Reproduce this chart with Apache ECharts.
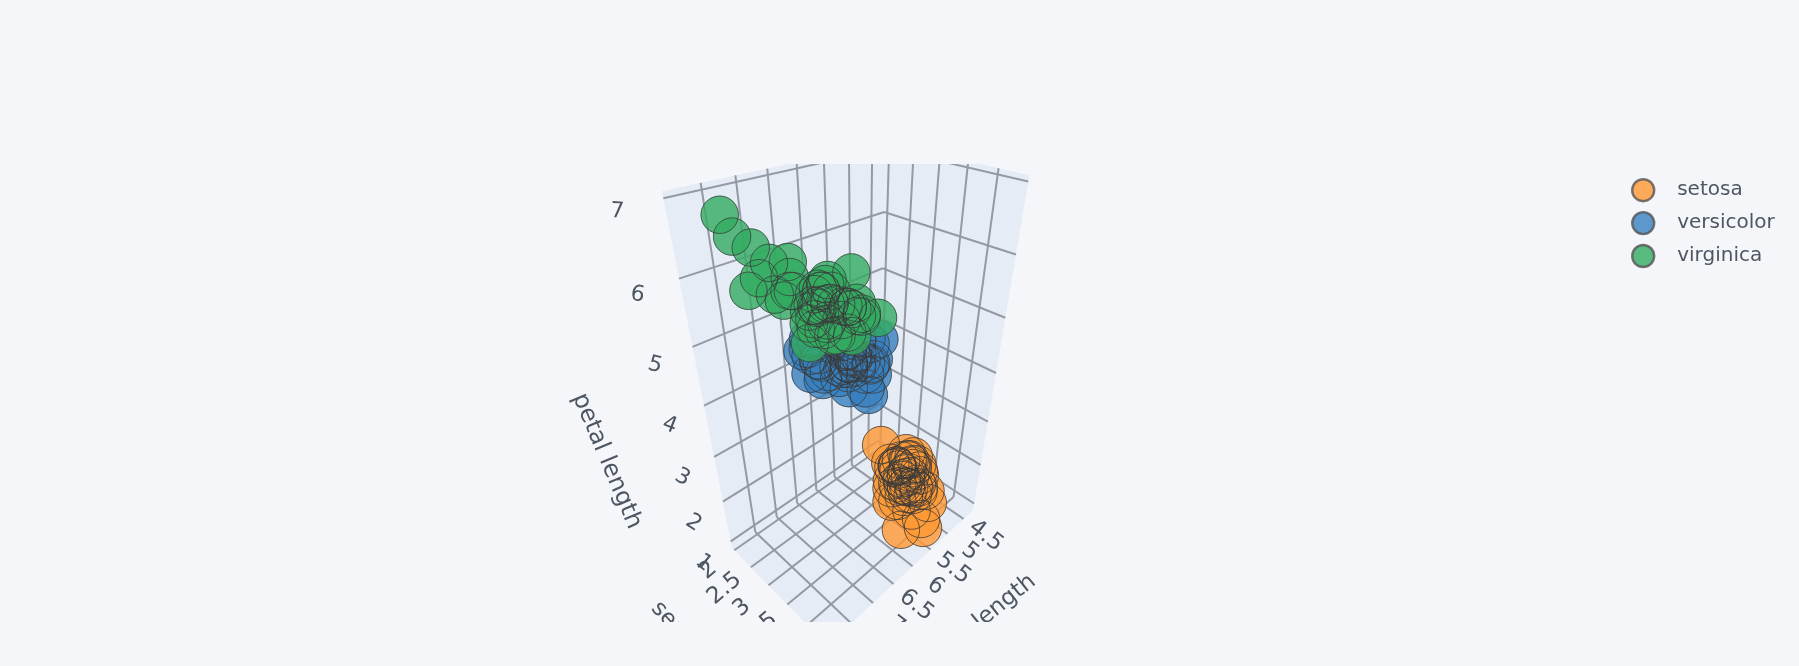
<!DOCTYPE html>
<html>
<head>
<meta charset="utf-8">
<title>iris</title>
<style>
  html, body { margin: 0; padding: 0; background: #F5F6F9; }
  #main { width: 1799px; height: 666px; }
</style>
<script src="https://cdn.jsdelivr.net/npm/echarts@6/dist/echarts.min.js"></script>
</head>
<body>
<div id="main"></div>
<script>
const speciesNames = ["setosa", "versicolor", "virginica"];

const setosaSepalLength = [5.1,4.9,4.7,4.6,5.0,5.4,4.6,5.0,4.4,4.9,5.4,4.8,4.8,4.3,5.8,5.7,5.4,5.1,5.7,5.1,5.4,5.1,4.6,5.1,4.8,5.0,5.0,5.2,5.2,4.7,4.8,5.4,5.2,5.5,4.9,5.0,5.5,4.9,4.4,5.1,5.0,4.5,4.4,5.0,5.1,4.8,5.1,4.6,5.3,5.0];
const setosaSepalWidth = [3.5,3.0,3.2,3.1,3.6,3.9,3.4,3.4,2.9,3.1,3.7,3.4,3.0,3.0,4.0,4.4,3.9,3.5,3.8,3.8,3.4,3.7,3.6,3.3,3.4,3.0,3.4,3.5,3.4,3.2,3.1,3.4,4.1,4.2,3.1,3.2,3.5,3.6,3.0,3.4,3.5,2.3,3.2,3.5,3.8,3.0,3.8,3.2,3.7,3.3];
const setosaPetalLength = [1.4,1.4,1.3,1.5,1.4,1.7,1.4,1.5,1.4,1.5,1.5,1.6,1.4,1.1,1.2,1.5,1.3,1.4,1.7,1.5,1.7,1.5,1.0,1.7,1.9,1.6,1.6,1.5,1.4,1.6,1.6,1.5,1.5,1.4,1.5,1.2,1.3,1.4,1.3,1.5,1.3,1.3,1.3,1.6,1.9,1.4,1.6,1.4,1.5,1.4];

const versicolorSepalLength = [7.0,6.4,6.9,5.5,6.5,5.7,6.3,4.9,6.6,5.2,5.0,5.9,6.0,6.1,5.6,6.7,5.6,5.8,6.2,5.6,5.9,6.1,6.3,6.1,6.4,6.6,6.8,6.7,6.0,5.7,5.5,5.5,5.8,6.0,5.4,6.0,6.7,6.3,5.6,5.5,5.5,6.1,5.8,5.0,5.6,5.7,5.7,6.2,5.1,5.7];
const versicolorSepalWidth = [3.2,3.2,3.1,2.3,2.8,2.8,3.3,2.4,2.9,2.7,2.0,3.0,2.2,2.9,2.9,3.1,3.0,2.7,2.2,2.5,3.2,2.8,2.5,2.8,2.9,3.0,2.8,3.0,2.9,2.6,2.4,2.4,2.7,2.7,3.0,3.4,3.1,2.3,3.0,2.5,2.6,3.0,2.6,2.3,2.7,3.0,2.9,2.9,2.5,2.8];
const versicolorPetalLength = [4.7,4.5,4.9,4.0,4.6,4.5,4.7,3.3,4.6,3.9,3.5,4.2,4.0,4.7,3.6,4.4,4.5,4.1,4.5,3.9,4.8,4.0,4.9,4.7,4.3,4.4,4.8,5.0,4.5,3.5,3.8,3.7,3.9,5.1,4.5,4.5,4.7,4.4,4.1,4.0,4.4,4.6,4.0,3.3,4.2,4.2,4.2,4.3,3.0,4.1];

const virginicaSepalLength = [6.3,5.8,7.1,6.3,6.5,7.6,4.9,7.3,6.7,7.2,6.5,6.4,6.8,5.7,5.8,6.4,6.5,7.7,7.7,6.0,6.9,5.6,7.7,6.3,6.7,7.2,6.2,6.1,6.4,7.2,7.4,7.9,6.4,6.3,6.1,7.7,6.3,6.4,6.0,6.9,6.7,6.9,5.8,6.8,6.7,6.7,6.3,6.5,6.2,5.9];
const virginicaSepalWidth = [3.3,2.7,3.0,2.9,3.0,3.0,2.5,2.9,2.5,3.6,3.2,2.7,3.0,2.5,2.8,3.2,3.0,3.8,2.6,2.2,3.2,2.8,2.8,2.7,3.3,3.2,2.8,3.0,2.8,3.0,2.8,3.8,2.8,2.8,2.6,3.0,3.4,3.1,3.0,3.1,3.1,3.1,2.7,3.2,3.3,3.0,2.5,3.0,3.4,3.0];
const virginicaPetalLength = [6.0,5.1,5.9,5.6,5.8,6.6,4.5,6.3,5.8,6.1,5.1,5.3,5.5,5.0,5.1,5.3,5.5,6.7,6.9,5.0,5.7,4.9,6.7,4.9,5.7,6.0,4.8,4.9,5.6,5.8,6.1,6.4,5.6,5.1,5.6,6.1,5.6,5.5,4.8,5.4,5.6,5.1,5.1,5.9,5.7,5.2,5.0,5.2,5.4,5.1];

const sepalLengthTicks = [4.5, 5, 5.5, 6, 6.5, 7, 7.5];
const sepalWidthTicks = [2, 2.5, 3, 3.5, 4];
const petalLengthTicks = [1, 2, 3, 4, 5, 6, 7];

// axis ranges of the box
const xRange = [4.19, 8.01];
const yRange = [1.93, 4.47];
const zRange = [0.82, 7.08];

// perspective: where the box corners land on screen, and the depth ratio along each axis
const origin = [878, 447];
const xEnd = [732, 548];
const yEnd = [973, 510];
const zEnd = [886, 143];
const depthX = 0.813;
const depthY = 0.88;
const depthZ = 0.71;

const textColor = "#4D5663";
const gridColor = "#9499A3";
const wallColor = "#E5ECF6";
const fontName = "DejaVu Sans";
const clipTop = 164;
const clipBottom = 622;

// u, v, w are 0..1 inside the box
function projectBox(u, v, w) {
  const d = 1 + u * (depthX - 1) + v * (depthY - 1) + w * (depthZ - 1);
  return [0, 1].map(i =>
    (origin[i]
      + u * (depthX * xEnd[i] - origin[i])
      + v * (depthY * yEnd[i] - origin[i])
      + w * (depthZ * zEnd[i] - origin[i])) / d
  );
}
const toU = x => (x - xRange[0]) / (xRange[1] - xRange[0]);
const toV = y => (y - yRange[0]) / (yRange[1] - yRange[0]);
const toW = z => (z - zRange[0]) / (zRange[1] - zRange[0]);

function points(xs, ys, zs) {
  return xs.map((x, i) => projectBox(toU(x), toV(ys[i]), toW(zs[i])));
}

function renderScene(params, api) {
  const at = (u, v, w) => api.coord(projectBox(u, v, w));
  const children = [];
  const wall = (a, b, c, d) => children.push({
    type: "polygon",
    shape: { points: [a, b, c, d] },
    style: { fill: wallColor }
  });
  const line = (a, b) => children.push({
    type: "line",
    shape: { x1: a[0], y1: a[1], x2: b[0], y2: b[1] },
    style: { stroke: gridColor, lineWidth: 2 }
  });
  const label = (p, dx, dy, text, deg, size) => children.push({
    type: "text",
    x: p[0] + dx,
    y: p[1] + dy,
    rotation: deg * Math.PI / 180,
    style: {
      text: String(text),
      fill: textColor,
      fontSize: size,
      fontFamily: fontName,
      align: "center",
      verticalAlign: "middle"
    }
  });

  // walls and floor
  wall(at(0, 0, 0), at(1, 0, 0), at(1, 0, 1), at(0, 0, 1));
  wall(at(0, 0, 0), at(0, 1, 0), at(0, 1, 1), at(0, 0, 1));
  wall(at(0, 0, 0), at(1, 0, 0), at(1, 1, 0), at(0, 1, 0));

  // grid lines
  sepalLengthTicks.forEach(x => {
    const u = toU(x);
    line(at(u, 0, 0), at(u, 0, 1));
    line(at(u, 0, 0), at(u, 1, 0));
  });
  sepalWidthTicks.forEach(y => {
    const v = toV(y);
    line(at(0, v, 0), at(0, v, 1));
    line(at(0, v, 0), at(1, v, 0));
  });
  petalLengthTicks.forEach(z => {
    const w = toW(z);
    line(at(0, 0, w), at(1, 0, w));
    line(at(0, 0, w), at(0, 1, w));
  });

  // tick labels
  sepalLengthTicks.forEach(x => label(at(toU(x), 1.2, 0), 0, 2, x, -38, 23));
  sepalWidthTicks.forEach(y => label(at(1.14, toV(y), 0), 0, 2, y, 40, 23));
  petalLengthTicks.forEach(z => label(at(1.145, 0, toW(z)), 0, 3, z, -(45 - 6 * z), 22));

  // axis titles
  label(at(0.475, 1.58, 0), -5, 1, "sepal length", 39, 23);
  label(at(1.38, 0.5, 0), 0, 0, "sepal width", -48, 23);
  label(at(1.39, 0, 0.49), 0, 0, "petal length", -67, 24);

  return {
    type: "group",
    clipPath: {
      type: "rect",
      shape: { x: 0, y: clipTop, width: 1799, height: clipBottom - clipTop }
    },
    children: children
  };
}

// fills first, then the rings on top so they stay visible through the overlaps
function fillSeries(name, color, xs, ys, zs) {
  return {
    name: name,
    type: "scatter",
    z: 3,
    symbol: "circle",
    symbolSize: 38,
    data: points(xs, ys, zs),
    itemStyle: { color: color, opacity: 0.8, borderWidth: 0 },
    emphasis: { disabled: true },
    animation: false
  };
}
function ringSeries(name, xs, ys, zs) {
  return {
    name: name + " outline",
    type: "scatter",
    z: 3,
    symbol: "circle",
    symbolSize: 37.5,
    data: points(xs, ys, zs),
    itemStyle: { color: "rgba(0,0,0,0)", opacity: 0.75, borderColor: "#3a3a3a", borderWidth: 1 },
    emphasis: { disabled: true },
    animation: false
  };
}

const chart = echarts.init(document.getElementById("main"));
chart.setOption({
  backgroundColor: "#F5F6F9",
  animation: false,
  grid: { left: 0, right: 0, top: 0, bottom: 0 },
  xAxis: { type: "value", min: 0, max: 1799, show: false },
  yAxis: { type: "value", min: 0, max: 666, inverse: true, show: false },
  legend: {
    data: speciesNames,
    orient: "vertical",
    left: 1626,
    top: 173,
    itemWidth: 22,
    itemHeight: 22,
    itemGap: 8.5,
    selectedMode: false,
    itemStyle: { borderColor: "#555555", borderWidth: 2.4 },
    textStyle: {
      color: textColor,
      fontFamily: fontName,
      fontSize: 20,
      padding: [0, 0, 0, 18]
    }
  },
  series: [
    {
      name: "scene",
      type: "custom",
      z: 1,
      silent: true,
      coordinateSystem: "cartesian2d",
      data: [[0, 0]],
      renderItem: renderScene
    },
    fillSeries(speciesNames[0], "#FF9933", setosaSepalLength, setosaSepalWidth, setosaPetalLength),
    ringSeries(speciesNames[0], setosaSepalLength, setosaSepalWidth, setosaPetalLength),
    fillSeries(speciesNames[1], "#3780BF", versicolorSepalLength, versicolorSepalWidth, versicolorPetalLength),
    ringSeries(speciesNames[1], versicolorSepalLength, versicolorSepalWidth, versicolorPetalLength),
    fillSeries(speciesNames[2], "#32AB60", virginicaSepalLength, virginicaSepalWidth, virginicaPetalLength),
    ringSeries(speciesNames[2], virginicaSepalLength, virginicaSepalWidth, virginicaPetalLength)
  ]
});
</script>
</body>
</html>
